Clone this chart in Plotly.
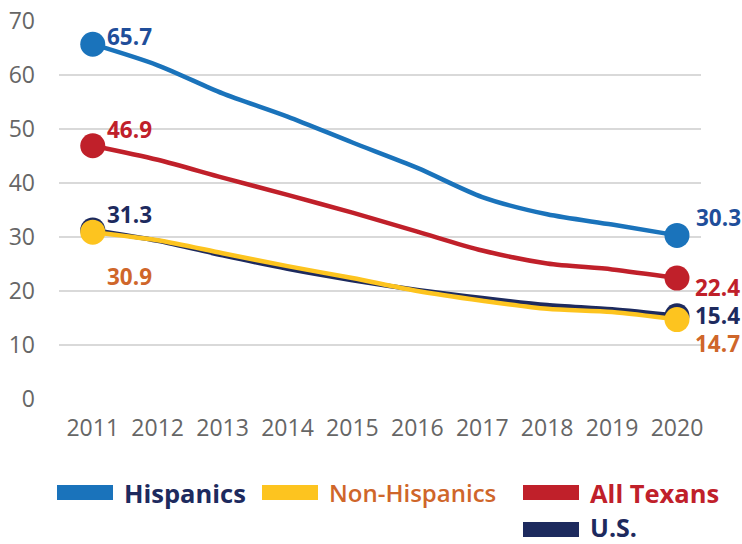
import plotly.graph_objects as go

# Years and rates per series
years = ["2011", "2012", "2013", "2014", "2015", "2016", "2017", "2018", "2019", "2020"]
hispanics = [65.7, 61.8, 56.6, 52.3, 47.5, 42.8, 37.4, 34.2, 32.3, 30.3]
non_hispanics = [30.9, 29.4, 27.0, 24.6, 22.4, 20.0, 18.2, 16.7, 16.1, 14.7]
all_texans = [46.9, 44.3, 41.0, 37.8, 34.5, 31.0, 27.5, 25.1, 24.0, 22.4]
us = [31.3, 29.3, 26.6, 24.1, 22.0, 20.2, 18.7, 17.4, 16.6, 15.4]

y_ticks = [0, 10, 20, 30, 40, 50, 60, 70]

BLUE = "#1a73bb"
YELLOW = "#fdc41f"
RED = "#c0202a"
NAVY = "#1d2a5e"
ORANGE = "#cf662a"
DARKBLUE = "#1f4e9a"

FONT = "Open Sans"

# (name, values, line colour, label colour, legend text colour,
#  start label offset, end label offset)
series = [
    ("U.S.", us, NAVY, NAVY, NAVY, (12, 15), (16, 0)),
    ("Non-Hispanics", non_hispanics, YELLOW, ORANGE, ORANGE, (12, -44), (16, -24)),
    ("All Texans", all_texans, RED, RED, RED, (12, 16), (16, -9)),
    ("Hispanics", hispanics, BLUE, DARKBLUE, NAVY, (12, 8), (17, 18)),
]

fig = go.Figure()

for name, vals, col, _, _, _, _ in series:
    fig.add_trace(go.Scatter(
        x=years, y=vals, mode="lines", name=name,
        line=dict(color=col, width=4.5, shape="spline", smoothing=0.8),
        showlegend=False, hoverinfo="skip",
    ))
    fig.add_trace(go.Scatter(
        x=[years[0], years[-1]], y=[vals[0], vals[-1]], mode="markers",
        marker=dict(color=col, size=25, line=dict(width=0)),
        showlegend=False, hoverinfo="skip", cliponaxis=False,
    ))

# Value labels at the first and last year (category axis -> use index)
annotations = []
for name, vals, col, lcol, _, s_off, e_off in series:
    for idx, off in ((0, s_off), (len(years) - 1, e_off)):
        annotations.append(dict(
            x=idx, y=vals[idx], xref="x", yref="y",
            text=f"{vals[idx]:.1f}", showarrow=False,
            xanchor="left", yanchor="middle",
            xshift=off[0], yshift=off[1],
            font=dict(family=FONT, size=22.5, color=lcol, weight=700),
        ))

# Legend drawn below the plot area (pixel positions converted to paper units)
PLOT_L, PLOT_R, PLOT_T, PLOT_B = 59, 701, 21, 399
W = PLOT_R - PLOT_L
H = PLOT_B - PLOT_T


def px(xp):
    return (xp - PLOT_L) / W


def py(yp):
    return (PLOT_B - yp) / H


legend_items = [
    ("Hispanics", BLUE, NAVY, 57, 492.5, 700, 25.5, 492.5),
    ("Non-Hispanics", YELLOW, ORANGE, 262, 492.5, 600, 24, 492.5),
    ("All Texans", RED, RED, 523, 492.5, 700, 25.5, 492.5),
    ("U.S.", NAVY, NAVY, 523, 529.5, 700, 25, 526.5),
]

shapes = []
for label, sw, tc, x0, yc, wt, fs, ty in legend_items:
    shapes.append(dict(
        type="rect", xref="paper", yref="paper",
        x0=px(x0), x1=px(x0 + 56), y0=py(yc + 7.5), y1=py(yc - 7.5),
        fillcolor=sw, line=dict(width=0), layer="above",
    ))
    annotations.append(dict(
        x=px(x0 + 66), y=py(ty), xref="paper", yref="paper",
        text=label, showarrow=False, xanchor="left", yanchor="middle",
        borderpad=0,
        font=dict(family=FONT, size=fs, color=tc, weight=wt),
    ))

fig.update_layout(
    width=742, height=544,
    margin=dict(l=PLOT_L, r=742 - PLOT_R, t=PLOT_T, b=544 - PLOT_B),
    paper_bgcolor="white", plot_bgcolor="white",
    showlegend=False,
    annotations=annotations,
    shapes=shapes,
    xaxis=dict(
        type="category", categoryorder="array", categoryarray=years,
        range=[-0.52, 9.37], automargin=False,
        showgrid=False, zeroline=False, showline=False, ticks="",
        tickfont=dict(family=FONT, size=23, color="#666666"),
        ticklabelstandoff=13,
    ),
    yaxis=dict(
        range=[0, 70], tickvals=y_ticks, automargin=False,
        showgrid=True, gridcolor="#d9d9d9", gridwidth=1.5,
        zeroline=False, showline=False, ticks="",
        tickfont=dict(family=FONT, size=23, color="#666666"),
        ticklabelstandoff=23,
    ),
)

fig.write_html("out.html")
